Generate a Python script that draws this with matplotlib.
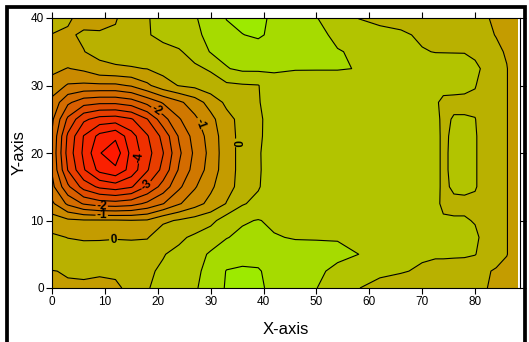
import numpy as np
import matplotlib.pyplot as plt
from matplotlib.colors import ListedColormap, BoundaryNorm
from matplotlib.patches import Rectangle

plt.rcParams['font.family'] = ['Liberation Sans', 'DejaVu Sans']
plt.rcParams['axes.unicode_minus'] = False
plt.rcParams['contour.negative_linestyle'] = 'solid'

# grid node positions
x_nodes = [0, 3, 6, 9, 12, 15, 18, 21, 24, 27, 30, 33, 36, 39, 42,
           46, 50, 54, 58, 62, 66, 70, 72.5, 74, 76, 78, 80, 82, 84, 86, 88]
y_nodes = [0, 2.5, 5, 7.5, 10, 12.5, 15, 17.5, 20, 22.5, 25, 27.5, 30,
           32.5, 35, 37.5, 40]

# measured values, one row per y node (x = 0..42 | 46..88)
z_rows = [
    [-0.15, -0.03, -0.1, -0.2, -0.1, 0.15, 0.48, 0.6, 0.75, 0.95, 1.2, 1.55, 1.62, 1.6, 1.35,
     1.15, 1.01, 0.75, 0.51, 0.35, 0.3, 0.25, 0.25, 0.25, 0.25, 0.2, 0.15, 0.02, -0.1, -0.2, -0.3],
    [-0.01, 0.02, 0.1, 0.1, 0.1, 0.2, 0.45, 0.55, 0.7, 0.9, 1.15, 1.52, 1.58, 1.55, 1.3,
     1.2, 1.08, 0.9, 0.7, 0.6, 0.53, 0.45, 0.42, 0.42, 0.4, 0.38, 0.33, 0.05, -0.05, -0.15, -0.3],
    [0.2, 0.2, 0.2, 0.22, 0.22, 0.25, 0.35, 0.48, 0.6, 0.85, 1.05, 1.25, 1.3, 1.3, 1.25,
     1.2, 1.15, 1.1, 1.0, 0.75, 0.68, 0.55, 0.53, 0.53, 0.53, 0.53, 0.51, 0.4, 0.2, 0.02, -0.3],
    [0.08, -0.01, -0.05, -0.05, -0.03, -0.05, -0.04, 0.35, 0.42, 0.58, 0.8, 0.98, 1.1, 1.15, 1.03,
     0.97, 0.97, 0.97, 0.96, 0.8, 0.75, 0.7, 0.68, 0.62, 0.62, 0.62, 0.56, 0.4, 0.2, 0.02, -0.3],
    [-0.25, -0.4, -0.45, -0.45, -0.45, -0.48, -0.45, -0.1, 0.05, 0.2, 0.35, 0.75, 0.95, 1.02, 0.92,
     0.85, 0.82, 0.8, 0.8, 0.78, 0.75, 0.72, 0.65, 0.55, 0.53, 0.53, 0.48, 0.35, 0.2, 0.02, -0.3],
    [-0.9, -1.6, -2.05, -2.25, -2.3, -2.2, -1.9, -1.52, -1.05, -0.7, -0.35, 0.02, 0.45, 0.65, 0.85,
     0.8, 0.8, 0.8, 0.8, 0.78, 0.75, 0.72, 0.6, 0.42, 0.42, 0.42, 0.42, 0.3, 0.15, 0.02, -0.3],
    [-1.35, -2.4, -3.2, -3.6, -3.75, -3.55, -2.95, -2.3, -1.6, -1.05, -0.6, -0.15, 0.15, 0.45, 0.85,
     0.8, 0.78, 0.78, 0.78, 0.78, 0.76, 0.72, 0.62, 0.42, 0.56, 0.58, 0.53, 0.35, 0.15, 0.02, -0.3],
    [-1.55, -3.02, -3.95, -4.65, -4.9, -4.3, -3.55, -2.85, -1.95, -1.3, -0.8, -0.2, 0.15, 0.45, 0.72,
     0.78, 0.78, 0.77, 0.76, 0.76, 0.75, 0.72, 0.62, 0.42, 0.6, 0.6, 0.53, 0.35, 0.15, 0.02, -0.3],
    [-1.6, -3.2, -4.1, -4.97, -5.3, -4.35, -3.7, -3.02, -2.1, -1.4, -0.85, -0.2, 0.15, 0.45, 0.75,
     0.78, 0.78, 0.77, 0.76, 0.76, 0.75, 0.72, 0.62, 0.42, 0.6, 0.6, 0.53, 0.35, 0.15, 0.02, -0.3],
    [-1.55, -3.1, -4.02, -4.65, -4.9, -4.2, -3.55, -2.85, -1.95, -1.3, -0.8, -0.2, 0.15, 0.42, 0.72,
     0.78, 0.78, 0.77, 0.76, 0.76, 0.75, 0.72, 0.62, 0.42, 0.58, 0.58, 0.53, 0.35, 0.15, 0.02, -0.3],
    [-1.4, -2.6, -3.4, -3.7, -3.75, -3.55, -3.02, -2.2, -1.55, -1.1, -0.65, -0.15, 0.15, 0.42, 0.7,
     0.78, 0.78, 0.78, 0.78, 0.77, 0.75, 0.72, 0.6, 0.42, 0.53, 0.53, 0.51, 0.33, 0.15, 0.02, -0.3],
    [-1.15, -1.9, -2.3, -2.4, -2.4, -2.25, -1.85, -1.45, -1.1, -0.75, -0.3, 0.1, 0.3, 0.47, 0.72,
     0.75, 0.75, 0.75, 0.75, 0.75, 0.74, 0.7, 0.55, 0.42, 0.42, 0.42, 0.42, 0.3, 0.15, 0.02, -0.3],
    [-0.7, -1.05, -1.1, -1.1, -1.1, -0.95, -0.6, -0.2, 0.02, 0.12, 0.3, 0.4, 0.45, 0.48, 0.85,
     0.82, 0.8, 0.8, 0.8, 0.78, 0.75, 0.72, 0.7, 0.62, 0.6, 0.58, 0.52, 0.32, 0.15, 0.02, -0.3],
    [-0.38, -0.52, -0.4, -0.12, -0.05, -0.03, 0.01, 0.15, 0.3, 0.42, 0.55, 0.97, 1.1, 1.1, 1.05,
     1.02, 1.02, 1.02, 0.99, 0.75, 0.7, 0.7, 0.68, 0.65, 0.62, 0.6, 0.55, 0.45, 0.2, 0.02, -0.3],
    [-0.25, -0.15, -0.01, 0.12, 0.15, 0.2, 0.3, 0.38, 0.45, 0.67, 1.03, 1.15, 1.25, 1.3, 1.3,
     1.25, 1.2, 1.02, 0.95, 0.7, 0.6, 0.52, 0.49, 0.49, 0.49, 0.49, 0.45, 0.3, 0.1, -0.05, -0.3],
    [-0.01, -0.05, 0.05, 0.05, 0.05, 0.25, 0.47, 0.6, 0.72, 0.92, 1.1, 1.35, 1.49, 1.56, 1.4,
     1.2, 1.1, 0.92, 0.7, 0.62, 0.55, 0.45, 0.4, 0.38, 0.37, 0.36, 0.35, 0.1, -0.02, -0.2, -0.3],
    [0.15, 0.05, -0.12, -0.15, -0.03, 0.2, 0.48, 0.6, 0.75, 0.97, 1.15, 1.52, 1.62, 1.6, 1.42,
     1.2, 1.02, 0.7, 0.49, 0.4, 0.38, 0.35, 0.33, 0.32, 0.32, 0.31, 0.3, 0.05, -0.1, -0.2, -0.3],
]

levels = [-6, -5, -4.5, -4, -3.5, -3, -2.5, -2, -1.5, -1, -0.5, 0, 0.5, 1, 1.5, 2]
band_colors = ['#ff1800', '#fa2000', '#f52800', '#f03000', '#e83e00', '#e04c00',
               '#d85e00', '#d46c00', '#d07800', '#ca8a00', '#c49c00', '#b9b100',
               '#b2c400', '#a6db00', '#9dea00']
labelled = [-4, -3, -2, -1, 0]
label_spots = [(19.5, 26), (28.9, 24.6), (34.4, 21.5), (16.2, 19.4), (17.6, 15.4),
               (9.4, 12.2), (9.4, 10.4), (11.6, 7.3)]

X, Y = np.meshgrid(x_nodes, y_nodes)
Z = np.array(z_rows)

cmap = ListedColormap(band_colors)
norm = BoundaryNorm(levels, cmap.N)

fig = plt.figure(figsize=(5.29, 3.42), dpi=100)
ax = fig.add_axes([52 / 529, 54 / 342, 468 / 529, 270 / 342])

ax.contourf(X, Y, Z, levels=levels, cmap=cmap, norm=norm)
plain = [lv for lv in levels[1:-1] if lv not in labelled]
ax.contour(X, Y, Z, levels=plain, colors='black', linewidths=0.8)
cs = ax.contour(X, Y, Z, levels=labelled, colors='black', linewidths=0.8)
ax.clabel(cs, fmt='%g', manual=label_spots, fontsize=8.5,
          inline=True, inline_spacing=1)
for t in cs.labelTexts:
    t.set_fontweight('bold')

ax.set_xlim(0, 88.5)
ax.set_ylim(0, 40)
ax.set_xticks(range(0, 90, 10))
ax.set_yticks(range(0, 50, 10))
ax.tick_params(direction='out', top=True, right=True, length=4, width=0.8,
               labelsize=8.5, pad=2)
for s in ax.spines.values():
    s.set_linewidth(0.8)

ax.set_xlabel('X-axis', fontsize=12, labelpad=10)
ax.set_ylabel('Y-axis', fontsize=12, labelpad=3)

# heavy frame around the whole figure
fig.add_artist(Rectangle((6.5 / 529, -0.05), (525 - 6.5) / 529, 1.05 - 6.5 / 342,
                         transform=fig.transFigure, fill=False,
                         linewidth=2.7, edgecolor='black'))

fig.savefig('out.png', dpi=100)
